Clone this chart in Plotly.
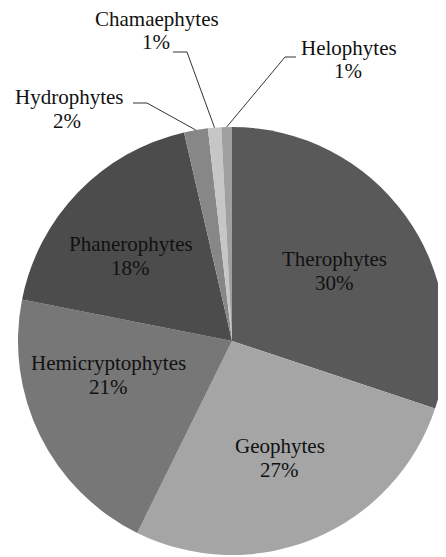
import math
import plotly.graph_objects as go

labels = ["Therophytes", "Geophytes", "Hemicryptophytes", "Phanerophytes",
          "Hydrophytes", "Chamaephytes", "Helophytes"]
values = [30.1, 27.2, 20.8, 18.3, 1.8, 1.0, 0.8]
colors = ["#595959", "#a5a5a5", "#777777", "#4c4c4c", "#878787", "#c6c6c6", "#a0a0a0"]
inside = [True, True, True, True, False, False, False]

# the page body has an 8px margin, so the figure is drawn offset by 8px
OFF = 8
W, H = 446 - OFF, 557 - OFF
FONT = dict(family="Times New Roman, Liberation Serif, DejaVu Serif, serif", size=21, color="#111111")
LINE_GAP = 24  # px between the two lines of a label

# pie box in window pixels (layout)
box_l, box_r, box_t, box_b = 18, 446, 125, 557

def px(x, y):
    """window pixel -> paper coords"""
    return (x - OFF) / W, 1 - (y - OFF) / H

dom_x = [px(box_l, 0)[0], px(box_r, 0)[0]]
dom_y = [px(0, box_b)[1], px(0, box_t)[1]]

fig = go.Figure(go.Pie(
    labels=labels, values=values, sort=False, direction="clockwise", rotation=0,
    marker=dict(colors=colors, line=dict(width=0)),
    textinfo="none", hoverinfo="skip", showlegend=False,
    domain=dict(x=dom_x, y=dom_y),
))

# geometry of the pie as plotly draws it
cx = (box_l + box_r) / 2
cy = (box_t + box_b) / 2
R = min(box_r - box_l, box_b - box_t) / 2
total = sum(values)

# inside label placement: fraction of radius, angular nudge (deg) from slice mid-angle
inside_layout = {
    "Therophytes": (0.58, 1.3),
    "Geophytes": (0.59, 0.5),
    "Hemicryptophytes": (0.60, 11.0),
    "Phanerophytes": (0.62, -4.0),
}
# outside label layout: name centre, percent centre, elbow point, end of short tick
outside_layout = {
    "Hydrophytes": dict(name=(69, 97), pct=(67, 121), elbow=(147, 103), end=(133, 103)),
    "Chamaephytes": dict(name=(157, 19), pct=(156, 42), elbow=(187, 52), end=(173, 52)),
    "Helophytes": dict(name=(349, 48), pct=(348, 71), elbow=(285, 57), end=(296, 57)),
}

def add_text(txt, x, y):
    tx, ty = px(x, y)
    annotations.append(dict(text=txt, x=tx, y=ty, xref="paper", yref="paper",
                            xanchor="center", yanchor="middle", showarrow=False,
                            font=FONT))

cum = 0.0
shapes, annotations = [], []
for lab, v, f in zip(labels, values, inside):
    mid = (cum + v / 2) / total * 2 * math.pi
    cum += v
    pct = f"{round(v / total * 100)}%"
    if f:
        frac, nudge = inside_layout[lab]
        a = mid + math.radians(nudge)
        bx, by = cx + frac * R * math.sin(a), cy - frac * R * math.cos(a)
        add_text(lab, bx, by - LINE_GAP / 2)
        add_text(pct, bx, by + LINE_GAP / 2)
        continue
    lay = outside_layout[lab]
    sx, sy = cx + R * math.sin(mid), cy - R * math.cos(mid)
    pts = [(sx, sy), lay["elbow"], lay["end"]]
    for (x0, y0), (x1, y1) in zip(pts[:-1], pts[1:]):
        a0, b0 = px(x0, y0)
        a1, b1 = px(x1, y1)
        shapes.append(dict(type="line", xref="paper", yref="paper",
                           x0=a0, y0=b0, x1=a1, y1=b1,
                           line=dict(color="#333333", width=1)))
    add_text(lab, *lay["name"])
    add_text(pct, *lay["pct"])

fig.update_layout(
    width=W, height=H, margin=dict(l=0, r=0, t=0, b=0),
    paper_bgcolor="white", plot_bgcolor="white",
    shapes=shapes, annotations=annotations,
)
fig.write_html("out.html")
